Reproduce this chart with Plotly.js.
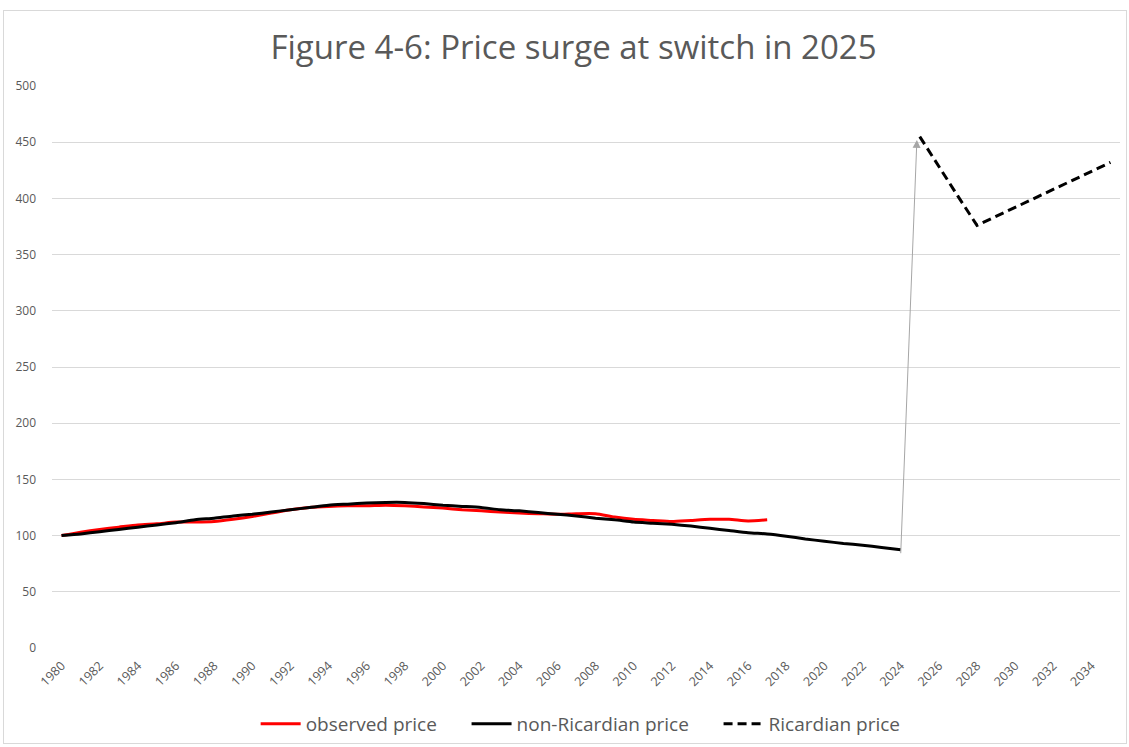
<!DOCTYPE html>
<html>
<head>
<meta charset="utf-8">
<script src="https://cdn.plot.ly/plotly-3.0.1.min.js"></script>
<style>
html, body { margin: 0; padding: 0; background: #fff; }
#wrap { position: relative; width: 1129px; height: 747px; }
#chart { width: 1129px; height: 747px; }
#frame { position: absolute; left: 3px; top: 10px; width: 1124px; height: 734px; border: 1px solid #d9d9d9; pointer-events: none; box-sizing: border-box; }
</style>
</head>
<body>
<div id="wrap"><div id="chart"></div><div id="frame"></div></div>
<script>
// Data
const yearsObserved = [1980,1981,1982,1983,1984,1985,1986,1987,1988,1989,1990,1991,1992,1993,1994,1995,1996,1997,1998,1999,2000,2001,2002,2003,2004,2005,2006,2007,2008,2009,2010,2011,2012,2013,2014,2015,2016,2017];
const observedPrice = [100,103,105.5,107.5,109.5,110.5,112,112,112.5,114.5,117,120,123,125,126,126.5,126.5,127,126.5,125.5,124.5,123,122,121,120,119.5,119,119.5,119.5,116.5,114.5,113.5,112.5,113.5,114.5,114.5,113,114];

const yearsNonRicardian = [1980,1981,1982,1983,1984,1985,1986,1987,1988,1989,1990,1991,1992,1993,1994,1995,1996,1997,1998,1999,2000,2001,2002,2003,2004,2005,2006,2007,2008,2009,2010,2011,2012,2013,2014,2015,2016,2017,2018,2019,2020,2021,2022,2023,2024];
const nonRicardianPrice = [100,101.5,103.5,105.5,107.5,109.5,111.5,114,115.5,117.5,119,121,123,125,127,128,129,129.5,129.5,128.5,127,126,125,123,122,120.5,119,117.5,115.5,114,112,111,110,108.5,106.5,104.5,102.5,101.5,99.5,97,95,93,91.5,89.5,87.5];

const yearsRicardian = [2025,2026,2027,2028,2029,2030,2031,2032,2033,2034,2035];
const ricardianPrice = [455,428,402,376,384,392,400,408,416,424,432];

const xTickYears = [1980,1982,1984,1986,1988,1990,1992,1994,1996,1998,2000,2002,2004,2006,2008,2010,2012,2014,2016,2018,2020,2022,2024,2026,2028,2030,2032,2034];
const yTicks = [0,50,100,150,200,250,300,350,400,450,500];

const seriesNames = ['observed price', 'non-Ricardian price', 'Ricardian price'];

// Switch arrow (from last non-Ricardian point to first Ricardian point)
const arrowFrom = {x: 2024, y: 83};
const arrowTo = {x: 2024.85, y: 452};

const FONT = '"Open Sans", "Noto Sans", sans-serif';
const GREY = '#595959';
const PAD = '\u00a0\u00a0\u00a0\u00a0\u00a0';

const traces = [
  {x: yearsObserved, y: observedPrice, name: seriesNames[0] + PAD, type: 'scatter', mode: 'lines',
   line: {color: '#ff0000', width: 3, shape: 'spline', smoothing: 0.6}},
  {x: yearsNonRicardian, y: nonRicardianPrice, name: seriesNames[1] + PAD, type: 'scatter', mode: 'lines',
   line: {color: '#000000', width: 3, shape: 'spline', smoothing: 0.6}},
  {x: yearsRicardian, y: ricardianPrice, name: seriesNames[2], type: 'scatter', mode: 'lines',
   line: {color: '#000000', width: 3, dash: '9px,5px'}}
];

const layout = {
  width: 1129, height: 747,
  paper_bgcolor: '#ffffff', plot_bgcolor: '#ffffff',
  margin: {l: 52, r: 9, t: 86, b: 99, autoexpand: false},
  font: {family: FONT, color: GREY},
  title: {text: 'Figure 4-6: Price surge at switch in 2025', x: 0.508, xanchor: 'center',
          y: 1 - 47/747, yanchor: 'middle', yref: 'container',
          font: {family: FONT, size: 33, color: GREY}},
  showlegend: true,
  legend: {orientation: 'h', x: 0.495, xanchor: 'center', y: -0.135, yanchor: 'middle',
           font: {family: FONT, size: 19, color: GREY}, itemwidth: 40, traceorder: 'normal'},
  xaxis: {range: [1979.5, 2035.5], tickmode: 'array', tickvals: xTickYears, ticktext: xTickYears.map(String),
          tickangle: -45, showgrid: false, zeroline: false, showline: false, ticks: '', ticklabelstandoff: 7,
          automargin: false, tickfont: {family: FONT, size: 12.5, color: GREY}, fixedrange: true},
  yaxis: {range: [0, 500], tickmode: 'array', tickvals: yTicks, showgrid: true, gridcolor: '#d9d9d9', gridwidth: 1,
          zeroline: false, showline: false, ticks: '', ticklabelstandoff: 15, automargin: false,
          tickfont: {family: FONT, size: 12, color: GREY}, fixedrange: true},
  annotations: [{
    x: arrowTo.x, y: arrowTo.y, ax: arrowFrom.x, ay: arrowFrom.y, axref: 'x', ayref: 'y', xref: 'x', yref: 'y',
    showarrow: true, arrowhead: 2, arrowsize: 1.6, arrowwidth: 1, arrowcolor: '#a6a6a6', text: ''
  }]
};

Plotly.newPlot('chart', traces, layout, {displayModeBar: false, staticPlot: true});
</script>
</body>
</html>
